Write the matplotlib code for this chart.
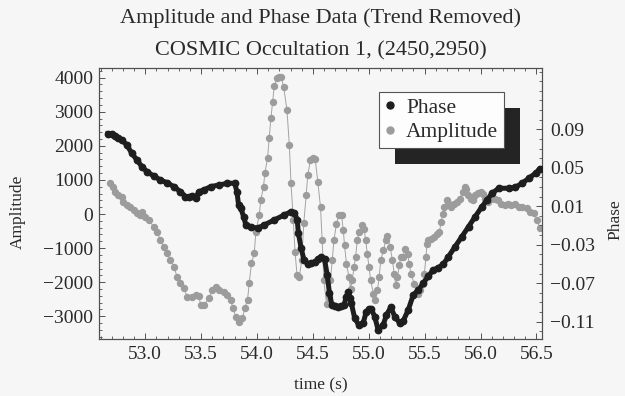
import numpy as np
import matplotlib
matplotlib.use("Agg")
import matplotlib.pyplot as plt
from matplotlib.lines import Line2D
from matplotlib.patches import Rectangle
from matplotlib.ticker import MultipleLocator, FixedLocator

# ---------------- data ----------------
phase_time = [52.665, 52.70, 52.73, 52.76, 52.79, 52.835, 52.88, 52.925, 52.97, 53.015,
              53.075, 53.135, 53.195, 53.255, 53.315, 53.36, 53.39, 53.42, 53.45, 53.48,
              53.525, 53.585, 53.66, 53.735, 53.80, 53.82, 53.835, 53.855, 53.88, 53.90,
              53.945, 54.005, 54.065, 54.155, 54.245, 54.305, 54.335, 54.36, 54.37, 54.395,
              54.42, 54.455, 54.484, 54.515, 54.545, 54.574, 54.604, 54.628, 54.648, 54.67,
              54.70, 54.724, 54.75, 54.778, 54.80, 54.814, 54.83, 54.844, 54.874, 54.91,
              54.949, 54.978, 55.00, 55.023, 55.053, 55.084, 55.129, 55.158, 55.197, 55.233,
              55.278, 55.309, 55.353, 55.398, 55.443, 55.488, 55.533, 55.578, 55.623, 55.668,
              55.713, 55.772, 55.833, 55.893, 55.952, 56.013, 56.058, 56.103, 56.163, 56.253,
              56.312, 56.372, 56.432, 56.492, 56.528]
phase_values = [0.0855, 0.0850, 0.0830, 0.0810, 0.0789, 0.0737, 0.0650, 0.0581, 0.0511, 0.0459,
                0.0415, 0.0373, 0.0345, 0.0304, 0.0252, 0.0200, 0.0195, 0.0207, 0.0183, 0.0252,
                0.0270, 0.0304, 0.0321, 0.0339, 0.0339, 0.0252, 0.0113, 0.0079, -0.0008, -0.0094,
                -0.0112, -0.0129, -0.0094, -0.0042, 0.0010, 0.0044, 0.0033, -0.0042, -0.0180, -0.0336,
                -0.0458, -0.0500, -0.0492, -0.0480, -0.0450, -0.0424, -0.0450, -0.0614, -0.0804, -0.0926,
                -0.0940, -0.0943, -0.0935, -0.0926, -0.0840, -0.0794, -0.0850, -0.0908, -0.1064, -0.1133,
                -0.1116, -0.0995, -0.0970, -0.0970, -0.1047, -0.1185, -0.1133, -0.1030, -0.0950, -0.1047,
                -0.1116, -0.1089, -0.0978, -0.0822, -0.0770, -0.0700, -0.0624, -0.0562, -0.0538, -0.0500,
                -0.0424, -0.0320, -0.0216, -0.0112, -0.0008, 0.0096, 0.0165, 0.0235, 0.0287, 0.0287,
                0.0297, 0.0339, 0.0391, 0.0443, 0.0484]

amp_time = [52.685, 52.715, 52.73, 52.76, 52.79, 52.805, 52.835, 52.865, 52.895, 52.925,
            52.955, 52.97, 53.0, 53.03, 53.075, 53.105, 53.135, 53.165, 53.195, 53.225,
            53.255, 53.285, 53.315, 53.345, 53.375, 53.42, 53.45, 53.48, 53.495, 53.525,
            53.57, 53.60, 53.63, 53.66, 53.705, 53.735, 53.765, 53.785, 53.81, 53.84,
            53.87, 53.89, 53.915, 53.93, 53.95, 53.975, 53.99, 54.02, 54.034, 54.058,
            54.07, 54.094, 54.109, 54.124, 54.14, 54.154, 54.178, 54.196, 54.214, 54.238,
            54.268, 54.289, 54.304, 54.325, 54.34, 54.358, 54.379, 54.40, 54.418, 54.44,
            54.454, 54.478, 54.499, 54.52, 54.544, 54.568, 54.583, 54.598, 54.622, 54.643,
            54.657, 54.673, 54.688, 54.711, 54.733, 54.756, 54.772, 54.783, 54.80, 54.823,
            54.837, 54.852, 54.868, 54.882, 54.897, 54.913, 54.936, 54.958, 54.972, 54.987,
            55.003, 55.017, 55.041, 55.057, 55.077, 55.093, 55.107, 55.131, 55.152, 55.167,
            55.191, 55.212, 55.227, 55.242, 55.257, 55.273, 55.287, 55.302, 55.323, 55.347,
            55.362, 55.377, 55.407, 55.443, 55.461, 55.482, 55.497, 55.512, 55.521, 55.534,
            55.557, 55.587, 55.611, 55.632, 55.647, 55.662, 55.677, 55.70, 55.722, 55.737,
            55.767, 55.79, 55.812, 55.842, 55.857, 55.872, 55.887, 55.911, 55.932, 55.952,
            55.977, 56.001, 56.022, 56.042, 56.066, 56.096, 56.127, 56.157, 56.187, 56.217,
            56.247, 56.276, 56.312, 56.34, 56.372, 56.417, 56.447, 56.478, 56.507, 56.528]
amp_values = [900, 800, 655, 557, 508, 361, 264, 214, 117, 38,
              -29, 67, -79, -176, -372, -519, -763, -959, -1153, -1349,
              -1545, -1839, -2033, -2180, -2425, -2425, -2376, -2405, -2669, -2669,
              -2474, -2229, -2131, -2229, -2278, -2376, -2522, -2767, -3012, -3159,
              -3060, -2767, -2522, -2033, -1446, -1153, -519, -29, 411, 801,
              1194, 1634, 2220, 2807, 3294, 3754, 3980, 4030, 4027, 3734,
              3050, 2024, 900, -176, -1106, -1789, -1839, -1349, -273, 557,
              1144, 1584, 1634, 1622, 947, 205, -772, -1945, -2631, -2434,
              -1945, -1358, -772, -284, -38, -38, -478, -918, -1457, -1848,
              -2190, -1945, -1554, -1261, -772, -528, -332, -430, -772, -1163,
              -1554, -1945, -2338, -2532, -2238, -1848, -1358, -1065, -772, -654,
              -968, -1358, -1751, -2091, -1850, -1500, -1261, -1261, -1017, -1163,
              -1457, -1751, -2044, -2338, -2238, -2044, -1751, -1261, -871, -772,
              -724, -675, -577, -528, -235, 9, 205, 401, 303, 205,
              303, 352, 449, 645, 792, 743, 548, 449, 401, 548,
              616, 645, 596, 449, 352, 449, 449, 401, 303, 254,
              303, 254, 300, 220, 214, 166, 67, 20, -176, -420]

x_ticks = [53.0, 53.5, 54.0, 54.5, 55.0, 55.5, 56.0, 56.5]
amp_ticks = [-3000, -2000, -1000, 0, 1000, 2000, 3000, 4000]
phase_ticks = [-0.11, -0.07, -0.03, 0.01, 0.05, 0.09]

title_line1 = "Amplitude and Phase Data (Trend Removed)"
title_line2 = "COSMIC Occultation 1, (2450,2950)"

# ---------------- styling ----------------
plt.rcParams['font.family'] = ['Liberation Serif', 'DejaVu Serif']
TXT = '#2a2a2a'
BG = '#f6f6f6'
FRAME = '#505050'

W, H = 625, 396
fig = plt.figure(figsize=(W / 100, H / 100), dpi=100, facecolor=BG)
L, R, T, B = 99, 542, 67.7, 339.3
ax = fig.add_axes([L / W, 1 - B / H, (R - L) / W, (B - T) / H], facecolor=BG)
ax2 = ax.twinx()

ax.plot(amp_time, amp_values, color='#a3a3a3', lw=0.7, marker='o', ms=4.3,
        mfc='#9c9c9c', mec='#9c9c9c', zorder=2)
ax2.plot(phase_time, phase_values, color='#1e1e1e', lw=3.6, marker='o', ms=4.6,
         mfc='#1e1e1e', mec='#1e1e1e', solid_joinstyle='round', zorder=3)

ax.set_xlim(52.586, 56.55)
ax.set_ylim(-3674, 4290)
ax2.set_ylim(-0.1283, 0.154)

ax.xaxis.set_major_locator(FixedLocator(x_ticks))
ax.set_xticklabels([f"{v:.1f}" for v in x_ticks])
ax.xaxis.set_minor_locator(MultipleLocator(0.1))
ax.yaxis.set_major_locator(FixedLocator(amp_ticks))
ax.set_yticklabels([f"{v}".replace('-', '\u2212') for v in amp_ticks])
ax.yaxis.set_minor_locator(MultipleLocator(200))
ax2.yaxis.set_major_locator(FixedLocator(phase_ticks))
ax2.set_yticklabels([f"{v:.2f}".replace('-', '\u2212') for v in phase_ticks])
ax2.yaxis.set_minor_locator(MultipleLocator(0.01))

TS = 14
ax.tick_params(axis='x', which='both', direction='in', top=True, bottom=True,
               colors=FRAME, labelcolor=TXT, labelsize=TS, pad=5)
ax.tick_params(axis='y', which='both', direction='in', left=True, right=False,
               colors=FRAME, labelcolor=TXT, labelsize=TS, pad=4)
ax2.tick_params(axis='y', which='both', direction='in', right=True, left=False,
                colors=FRAME, labelcolor=TXT, labelsize=TS, pad=6)
for a in (ax, ax2):
    a.tick_params(which='major', length=4.5, width=0.7)
    a.tick_params(which='minor', length=2.3, width=0.6)
    for s in a.spines.values():
        s.set_color(FRAME)
        s.set_linewidth(0.8)

# texts
cx = (L + R) / 2 / W
fig.text(cx, 1 - 18 / H, title_line1, ha='center', va='center', fontsize=16, color=TXT)
fig.text(cx, 1 - 51 / H, title_line2, ha='center', va='center', fontsize=16, color=TXT)
fig.text(cx, 1 - 385 / H, "time (s)", ha='center', va='center', fontsize=12.5, color=TXT)
fig.text(18 / W, 1 - 212 / H, "Amplitude", ha='center', va='center', rotation=90,
         fontsize=12.5, color=TXT)
fig.text(615 / W, 1 - 220 / H, "Phase", ha='center', va='center', rotation=90,
         fontsize=12.5, color=TXT)

# legend with offset dark shadow
handles = [Line2D([], [], ls='none', marker='o', ms=5, color='#1e1e1e'),
           Line2D([], [], ls='none', marker='o', ms=5, color='#9c9c9c')]
leg = ax2.legend(handles, ["Phase", "Amplitude"], loc='upper left',
                 bbox_to_anchor=(379.3 / W, 1 - 92.3 / H), bbox_transform=fig.transFigure,
                 borderaxespad=0, fontsize=15.5, fancybox=False, frameon=True,
                 handlelength=0.5, handletextpad=0.5, borderpad=0.25, labelspacing=0.2,
                 framealpha=1)
leg.get_frame().set_facecolor('#fdfdfd')
leg.get_frame().set_edgecolor('#555555')
leg.get_frame().set_linewidth(0.8)
for t in leg.get_texts():
    t.set_color(TXT)
leg.set_zorder(10)

fig.canvas.draw()
bb = leg.get_frame().get_window_extent()
shadow = Rectangle((bb.x0 + 16, bb.y0 - 16), bb.width, bb.height, transform=None,
                   facecolor='#242424', edgecolor='none', zorder=9, clip_on=False)
ax2.add_artist(shadow)

fig.savefig("out.png", dpi=100, facecolor=BG)
